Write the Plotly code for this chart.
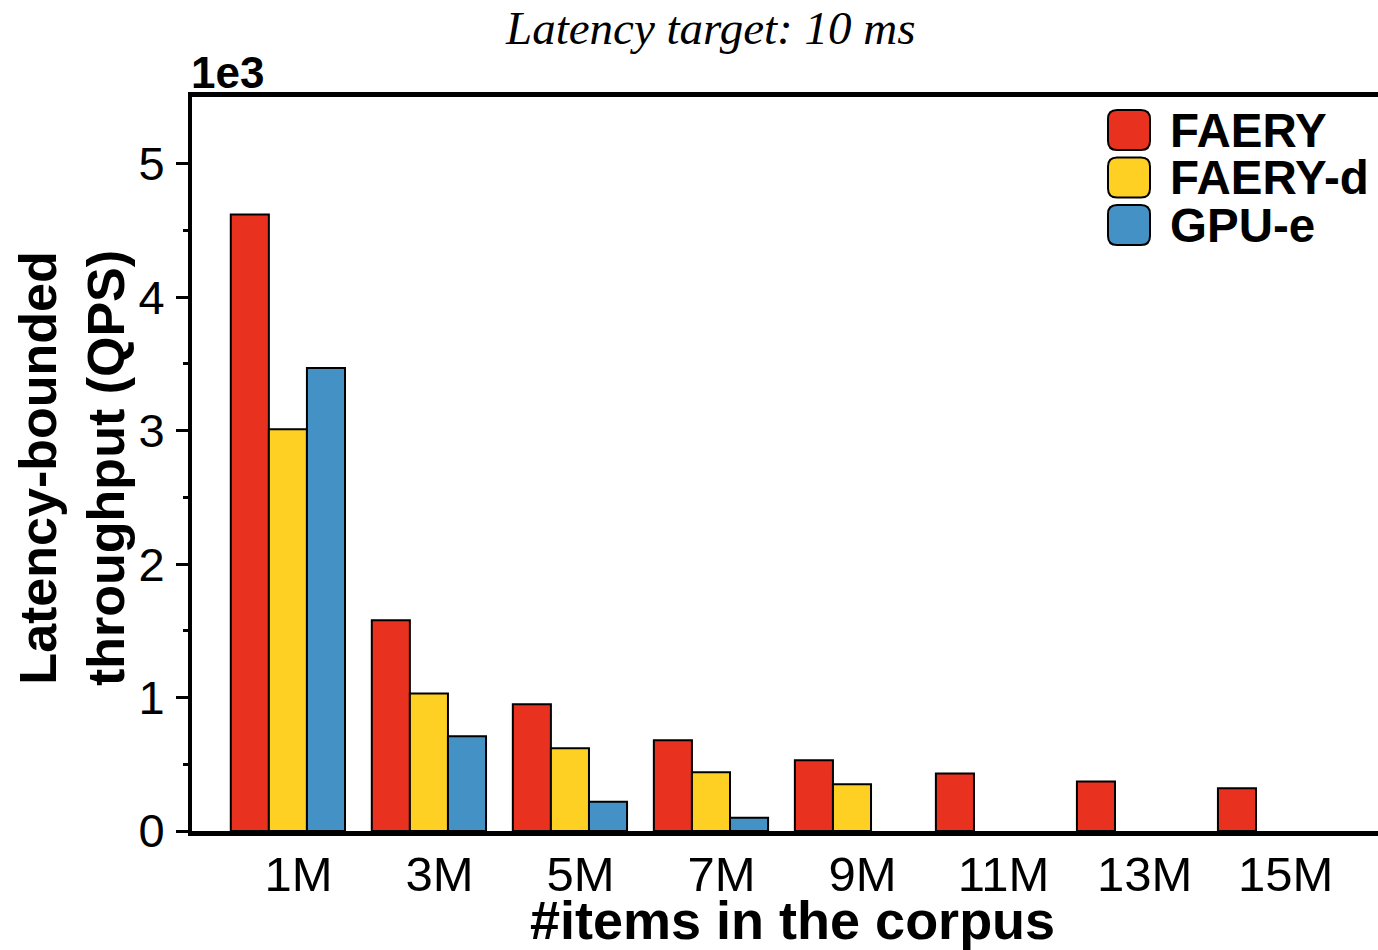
import plotly.graph_objects as go

# Corpus sizes (millions of items) and latency-bounded throughput (x1e3 QPS)
corpus_m = [1, 3, 5, 7, 9, 11, 13, 15]
tick_labels = ["1M", "3M", "5M", "7M", "9M", "11M", "13M", "15M"]
faery = [4.62, 1.58, 0.95, 0.68, 0.53, 0.43, 0.37, 0.32]
faery_d = [3.01, 1.03, 0.62, 0.44, 0.35, None, None, None]
gpu_e = [3.47, 0.71, 0.22, 0.10, None, None, None, None]

series = [
    ("FAERY", faery, "#E9311F"),
    ("FAERY-d", faery_d, "#FED023"),
    ("GPU-e", gpu_e, "#4491C6"),
]

W, H = 1378, 950
L, R, T, B = 192, 1378, 97, 831  # plot area in pixels


def px(x):
    return (x - L) / (R - L)


def py(y):
    return (B - y) / (B - T)


fig = go.Figure()
for name, vals, color in series:
    fig.add_trace(go.Bar(
        x=corpus_m, y=vals, name=name,
        marker=dict(color=color, line=dict(color="black", width=2)),
        showlegend=False,
    ))

font = "Liberation Sans, Arial, Helvetica, sans-serif"

# Legend drawn as rounded swatches with labels
shapes = []
annotations = []
for i, (name, _, color) in enumerate(series):
    cy = 130 + i * 47.5
    x0, x1 = 1108, 1150
    y0, y1 = cy - 20, cy + 20
    r = 9
    X0, X1 = px(x0), px(x1)
    Y0, Y1 = py(y1), py(y0)
    rx, ry = r / (R - L), r / (B - T)
    path = (f"M {X0+rx},{Y0} L {X1-rx},{Y0} Q {X1},{Y0} {X1},{Y0+ry} "
            f"L {X1},{Y1-ry} Q {X1},{Y1} {X1-rx},{Y1} L {X0+rx},{Y1} "
            f"Q {X0},{Y1} {X0},{Y1-ry} L {X0},{Y0+ry} Q {X0},{Y0} {X0+rx},{Y0} Z")
    shapes.append(dict(type="path", path=path, xref="paper", yref="paper",
                       fillcolor=color, line=dict(color="black", width=2)))
    annotations.append(dict(text=f"<b>{name}</b>", x=px(1168), y=py(cy),
                            xref="paper", yref="paper", xanchor="left",
                            yanchor="middle", showarrow=False,
                            font=dict(family=font, size=47.5, color="black")))

annotations += [
    dict(text="<i>Latency target: 10 ms</i>", x=px(710), y=py(28),
         xref="paper", yref="paper", xanchor="center", yanchor="middle",
         showarrow=False,
         font=dict(family="Liberation Serif, Times New Roman, serif",
                   size=47, color="black")),
    dict(text="<b>1e3</b>", x=px(189), y=py(73), xref="paper", yref="paper",
         xanchor="left", yanchor="middle", showarrow=False,
         font=dict(family=font, size=44, color="black")),
    dict(text="<b>#items in the corpus</b>", x=px(792), y=py(920),
         xref="paper", yref="paper", xanchor="center", yanchor="middle",
         showarrow=False, font=dict(family=font, size=54, color="black")),
    dict(text="<b>Latency-bounded<br>throughput (QPS)</b>", x=px(72), y=py(468),
         xref="paper", yref="paper", xanchor="center", yanchor="middle",
         textangle=-90, showarrow=False,
         font=dict(family=font, size=52, color="black")),
]

fig.update_layout(
    width=W, height=H,
    margin=dict(l=L, r=W - R, t=T, b=H - B, pad=0),
    paper_bgcolor="white", plot_bgcolor="white",
    barmode="group", bargap=0.19, bargroupgap=0,
    shapes=shapes, annotations=annotations,
    font=dict(family=font, color="black"),
)

fig.update_xaxes(
    range=[-0.36, 16.46],
    tickvals=[c + 0.15 for c in corpus_m], ticktext=tick_labels,
    ticks="", showgrid=False, zeroline=False,
    showline=True, linecolor="black", linewidth=5, mirror=True,
    tickfont=dict(family=font, size=49, color="black"),
    ticklabelstandoff=-4,
)
fig.update_yaxes(
    range=[0, 5.5], tickvals=[0, 1, 2, 3, 4, 5],
    ticks="outside", ticklen=12, tickwidth=3, tickcolor="black",
    minor=dict(tickvals=[0.5, 1.5, 2.5, 3.5, 4.5], ticks="outside",
               ticklen=5, tickwidth=3, tickcolor="black"),
    showgrid=False, zeroline=False,
    showline=True, linecolor="black", linewidth=4, mirror=False,
    tickfont=dict(family=font, size=47, color="black"),
    ticklabelstandoff=2,
)

fig.write_html("out.html")
